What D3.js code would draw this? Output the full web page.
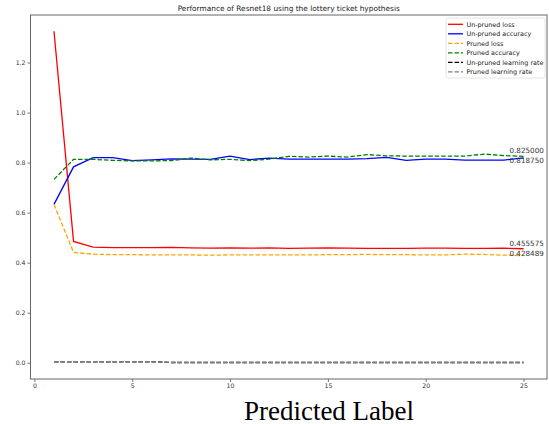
<!DOCTYPE html>
<html>
<head>
<meta charset="utf-8">
<script src="https://cdn.jsdelivr.net/npm/d3@7"></script>
<style>
  body { margin: 0; background: #fff; }
  svg { display: block; font-family: "DejaVu Sans", sans-serif; }
</style>
</head>
<body>
<svg id="chart" width="549" height="424"></svg>
<script>
// data
const epochs = d3.range(1, 26);
const unprunedLoss = [1.325, 0.485, 0.462, 0.460, 0.460, 0.460, 0.461, 0.459, 0.458, 0.459, 0.458, 0.459, 0.457,
  0.458, 0.459, 0.458, 0.457, 0.457, 0.457, 0.458, 0.458, 0.457, 0.457, 0.458, 0.455575];
const unprunedAcc = [0.633, 0.783, 0.820, 0.820, 0.808, 0.811, 0.815, 0.814, 0.813, 0.826, 0.812, 0.818, 0.814,
  0.814, 0.814, 0.814, 0.816, 0.821, 0.809, 0.814, 0.814, 0.810, 0.810, 0.810, 0.81875];
const prunedLoss = [0.633, 0.441, 0.434, 0.432, 0.432, 0.431, 0.431, 0.431, 0.430, 0.431, 0.431, 0.431, 0.431,
  0.431, 0.432, 0.432, 0.433, 0.432, 0.432, 0.431, 0.431, 0.434, 0.433, 0.430, 0.428489];
const prunedAcc = [0.733, 0.813, 0.813, 0.809, 0.807, 0.807, 0.808, 0.818, 0.811, 0.813, 0.808, 0.814, 0.825,
  0.822, 0.826, 0.822, 0.832, 0.827, 0.826, 0.826, 0.826, 0.826, 0.834, 0.828, 0.825];
const unprunedLr = [0.004, 0.004, 0.004, 0.004, 0.004, 0.004, 0.001, 0.001, 0.001, 0.001, 0.001, 0.001, 0.001,
  0.001, 0.001, 0.001, 0.001, 0.001, 0.001, 0.001, 0.001, 0.001, 0.001, 0.001, 0.001];
const prunedLr = [0.004, 0.004, 0.004, 0.004, 0.004, 0.004, 0.001, 0.001, 0.001, 0.001, 0.001, 0.001, 0.001,
  0.001, 0.001, 0.001, 0.001, 0.001, 0.001, 0.001, 0.001, 0.001, 0.001, 0.001, 0.001];
const xTicks = [0, 5, 10, 15, 20, 25];
const yTicks = [0.0, 0.2, 0.4, 0.6, 0.8, 1.0, 1.2];
const seriesNames = ["Un-pruned loss", "Un-pruned accuracy", "Pruned loss", "Pruned accuracy",
  "Un-pruned learning rate", "Pruned learning rate"];
const seriesValues = [unprunedLoss, unprunedAcc, prunedLoss, prunedAcc, unprunedLr, prunedLr];
const endLabels = ["0.455575", "0.818750", "0.428489", "0.825000"];

// styling per series
const colors = ["red", "blue", "orange", "green", "black", "gray"];
const dashes = [null, null, "4.5,2", "4.5,2", "4.5,2", "4.5,2"];
const labelDy = [-3, 5.5, 0.5, -3];

const svg = d3.select("#chart");
const margin = { top: 15, right: 2, bottom: 45, left: 30.5 };
const W = 549, H = 424;

const x = d3.scaleLinear().domain([-0.2, 26.2]).range([margin.left, W - margin.right]);
const y = d3.scaleLinear().domain([-0.065, 1.39]).range([H - margin.bottom, margin.top]);

// title
svg.append("text")
  .attr("x", (margin.left + W - margin.right) / 2)
  .attr("y", 10.5)
  .attr("text-anchor", "middle")
  .style("font-size", "7.4px")
  .attr("fill", "#222")
  .text("Performance of Resnet18 using the lottery ticket hypothesis");

// axes
const xAxis = svg.append("g")
  .attr("transform", `translate(0,${H - margin.bottom})`)
  .call(d3.axisBottom(x).tickValues(xTicks).tickFormat(d3.format("d")).tickSize(3).tickPadding(2));
const yAxis = svg.append("g")
  .attr("transform", `translate(${margin.left},0)`)
  .call(d3.axisLeft(y).tickValues(yTicks).tickFormat(d3.format(".1f")).tickSize(3).tickPadding(2));
[xAxis, yAxis].forEach(a => {
  a.select(".domain").remove();
  a.selectAll("line").attr("stroke", "#555").attr("stroke-width", 0.8);
  a.selectAll("text").attr("fill", "#333").style("font-size", "6.2px").style("font-family", "DejaVu Sans");
});

// frame
svg.append("rect")
  .attr("x", margin.left)
  .attr("y", margin.top)
  .attr("width", W - margin.right - margin.left)
  .attr("height", H - margin.bottom - margin.top)
  .attr("fill", "none")
  .attr("stroke", "#666")
  .attr("stroke-width", 1);

// lines
const line = d3.line().x((d, i) => x(epochs[i])).y(d => y(d));
seriesValues.forEach((vals, k) => {
  svg.append("path")
    .datum(vals)
    .attr("d", line)
    .attr("fill", "none")
    .attr("stroke", colors[k])
    .attr("stroke-width", 1.3)
    .attr("stroke-dasharray", dashes[k]);
});

// final value labels
endLabels.forEach((t, k) => {
  const last = seriesValues[k][seriesValues[k].length - 1];
  svg.append("text")
    .attr("x", x(epochs[epochs.length - 1]) - 14)
    .attr("y", y(last) + labelDy[k])
    .attr("fill", "#333")
    .style("font-size", "7.2px")
    .text(t);
});

// legend
const leg = svg.append("g").attr("transform", "translate(446,18)");
leg.append("rect")
  .attr("width", 99)
  .attr("height", 60)
  .attr("rx", 2)
  .attr("fill", "#fff")
  .attr("fill-opacity", 0.8)
  .attr("stroke", "#ddd")
  .attr("stroke-width", 0.8);
seriesNames.forEach((name, k) => {
  const g = leg.append("g").attr("transform", `translate(0,${6.3 + k * 9.5})`);
  g.append("line")
    .attr("x1", 2).attr("x2", 17)
    .attr("stroke", colors[k])
    .attr("stroke-width", 1.3)
    .attr("stroke-dasharray", dashes[k]);
  g.append("text")
    .attr("x", 20.5)
    .attr("y", 2.3)
    .attr("fill", "#222")
    .style("font-size", "6.4px")
    .text(name);
});

// big label under the chart
svg.append("text")
  .attr("x", 329)
  .attr("y", 419.5)
  .attr("text-anchor", "middle")
  .style("font-family", "'Liberation Serif', 'Times New Roman', serif")
  .style("font-size", "27px")
  .attr("fill", "#000")
  .text("Predicted Label");
</script>
</body>
</html>
